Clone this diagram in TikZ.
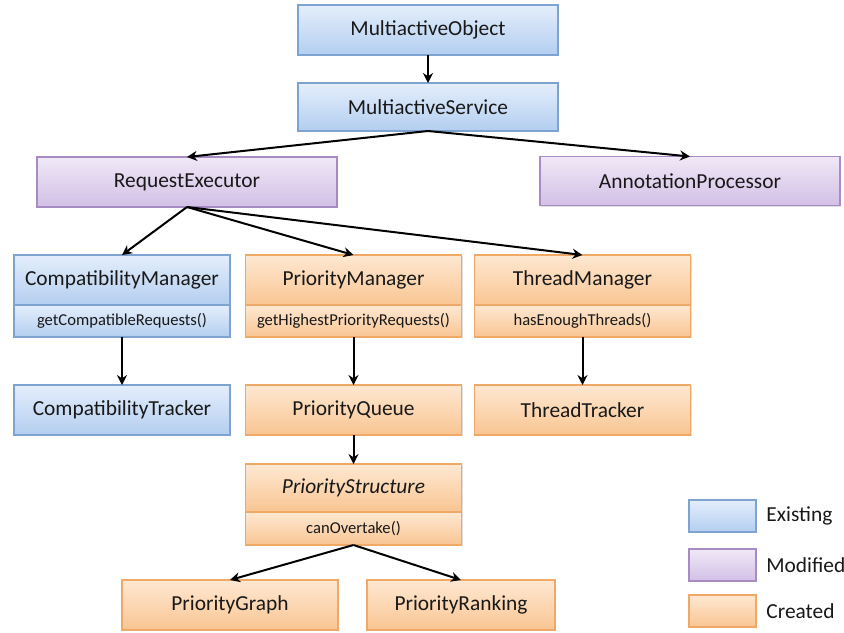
\documentclass[tikz,border=0pt]{standalone}
\usepackage{fontspec}
\setmainfont{Carlito}
\usepackage{tikz}
\usetikzlibrary{positioning,arrows.meta,shadows}

\definecolor{bluetop}{HTML}{E4EEFB}
\definecolor{bluebot}{HTML}{B3CEF0}
\definecolor{blueline}{HTML}{7FA3D0}
\definecolor{purptop}{HTML}{F0E8F7}
\definecolor{purpbot}{HTML}{D2C0E6}
\definecolor{purpline}{HTML}{A68CC2}
\definecolor{orngtop}{HTML}{FEE8D2}
\definecolor{orngbot}{HTML}{F9C592}
\definecolor{orngline}{HTML}{F0A866}

\begin{document}
\begin{tikzpicture}[x=0.5pt, y=-0.5pt,
    box/.style={rectangle, draw, line width=0.6pt, inner sep=0pt, outer sep=0pt,
                font=\fontsize{10.7}{12}\selectfont, text=black!90,
                drop shadow={shadow xshift=0.7pt, shadow yshift=-0.7pt, opacity=0.25}},
    existing/.style={box, draw=blueline, top color=bluetop, bottom color=bluebot},
    modified/.style={box, draw=purpline, top color=purptop, bottom color=purpbot},
    created/.style={box, draw=orngline, top color=orngtop, bottom color=orngbot},
    cls/.style={minimum width=108pt, minimum height=25pt},
    method/.style={minimum width=108pt, minimum height=16pt, font=\fontsize{8.3}{10}\selectfont},
    key/.style={minimum width=33.5pt, minimum height=16pt},
    keytext/.style={font=\fontsize{10.7}{12}\selectfont, text=black!90, inner sep=0pt},
    arr/.style={-{Stealth[length=5pt,width=5pt]}, line width=1pt, black}]
  \useasboundingbox (0,0) rectangle (844,632);

  % top of the hierarchy
  \node[existing, minimum width=130pt, minimum height=25pt] (mobj) at (428,30) {MultiactiveObject};
  \node[existing, minimum width=130pt, minimum height=24pt] (msvc) at (428,107) {MultiactiveService};
  \node[modified, minimum width=150pt, minimum height=25pt] (reqex) at (187,182) {RequestExecutor};
  \node[modified, minimum width=150pt, minimum height=24.5pt] (annot) at (690,181) {AnnotationProcessor};

  % managers
  \node[existing, cls] (compmgr) at (122,280) {CompatibilityManager};
  \node[existing, method, below=0pt of compmgr] (compget) {getCompatibleRequests()};
  \node[created, cls] (primgr) at (353.5,280) {PriorityManager};
  \node[created, method, below=0pt of primgr] (priget) {getHighestPriorityRequests()};
  \node[created, cls] (thrmgr) at (582.5,280) {ThreadManager};
  \node[created, method, below=0pt of thrmgr] (thrget) {hasEnoughThreads()};

  % trackers
  \node[existing, cls] (comptrk) at (122,410) {CompatibilityTracker};
  \node[created, cls] (priq) at (353.5,410) {PriorityQueue};
  \node[created, cls] (thrtrk) at (582.5,410) {ThreadTracker};

  % priority structure
  \node[created, cls, minimum height=24pt] (pristruct) at (353.5,488) {\itshape PriorityStructure};
  \node[created, method, minimum height=16.5pt, below=0pt of pristruct] (structget) {canOvertake()};
  \node[created, cls] (prigraph) at (230,605) {PriorityGraph};
  \node[created, cls, minimum width=94pt] (prirank) at (461,605) {PriorityRanking};

  % legend
  \node[existing, key] (legex) at (722.5,516) {};
  \node[modified, key] (legmod) at (722.5,565) {};
  \node[created, key] (legcre) at (722.5,611) {};
  \node[keytext, right=5pt of legex] (legextxt) {Existing};
  \node[keytext, right=5pt of legmod] (legmodtxt) {Modified};
  \node[keytext, right=5pt of legcre] (legcretxt) {Created};

  % connectors
  \draw[arr] (mobj) -- (msvc);
  \draw[arr] (msvc.south) -- (reqex.north);
  \draw[arr] (msvc.south) -- (annot.north);
  \draw[arr] (reqex.south) -- (compmgr.north);
  \draw[arr] (reqex.south) -- (primgr.north);
  \draw[arr] (reqex.south) -- (thrmgr.north);
  \draw[arr] (compget) -- (comptrk);
  \draw[arr] (priget) -- (priq);
  \draw[arr] (thrget) -- (thrtrk);
  \draw[arr] (priq) -- (pristruct);
  \draw[arr] (structget.south) -- (prigraph.north);
  \draw[arr] (structget.south) -- (prirank.north);
\end{tikzpicture}
\end{document}
